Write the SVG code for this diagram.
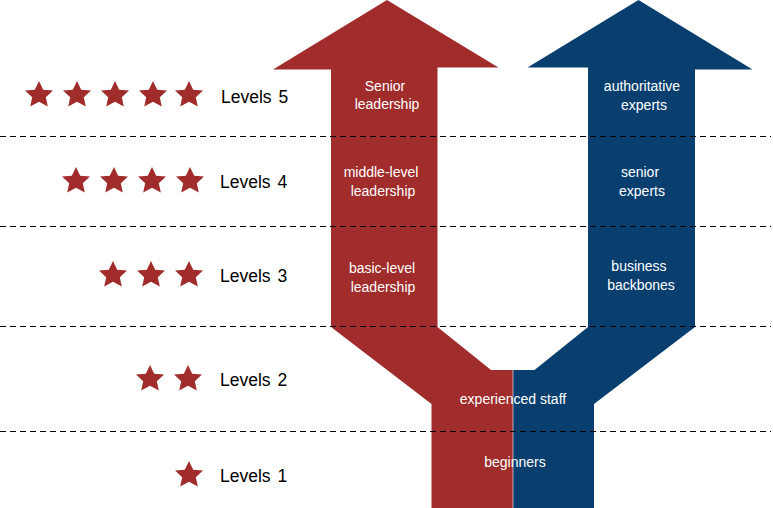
<svg xmlns="http://www.w3.org/2000/svg" width="773" height="508" viewBox="0 0 773 508">
<style>
text{font-family:"Liberation Sans",Arial,sans-serif}
.w{fill:#fff;font-size:14px;text-anchor:middle}
.l{fill:#000;font-size:17.500px;word-spacing:2px}
.d{stroke:#000;stroke-width:1.200;stroke-dasharray:6 4;fill:none}
.s{fill:#a02c2c}
</style>
<defs><polygon id="star" points="0,-14 4.200,-5.200 14,-4.400 6.800,2.200 8.800,11.600 0,6.800 -8.800,11.600 -6.800,2.200 -14,-4.400 -4.200,-5.200"/></defs>
<rect width="773" height="508" fill="#fff"/>
<g id="arrow-red"><polygon fill="#a02c2c" points="387,0 498.500,67.500 437.500,67.500 437.500,327 491,370 512.700,370 512.700,508 431.500,508 431.500,404 331,327 331,69.500 273,69.500"/></g>
<g id="arrow-blue"><polygon fill="#083f6f" points="638.500,0 752.500,69.500 695,69.500 695,327 594,404 594,508 513.300,508 513.300,370 534.500,370 588,327 588,67.500 527.500,67.500"/></g>
<g id="connectors">
<line class="d" x1="0" y1="136.500" x2="771" y2="136.500"/>
<line class="d" x1="0" y1="226.500" x2="771" y2="226.500"/>
<line class="d" x1="0" y1="326.500" x2="771" y2="326.500"/>
<line class="d" x1="0" y1="431.500" x2="771" y2="431.500"/>
</g>
<g id="level5"><g class="s"><use href="#star" x="39" y="95"/><use href="#star" x="77" y="95"/><use href="#star" x="115" y="95"/><use href="#star" x="153" y="95"/><use href="#star" x="189" y="95"/></g><text class="l" x="221" y="103">Levels 5</text></g>
<g id="level4"><g class="s"><use href="#star" x="76" y="181"/><use href="#star" x="114" y="181"/><use href="#star" x="152" y="181"/><use href="#star" x="190" y="181"/></g><text class="l" x="220" y="188">Levels 4</text></g>
<g id="level3"><g class="s"><use href="#star" x="113" y="275"/><use href="#star" x="151" y="275"/><use href="#star" x="189" y="275"/></g><text class="l" x="220" y="282">Levels 3</text></g>
<g id="level2"><g class="s"><use href="#star" x="150" y="379"/><use href="#star" x="188" y="379"/></g><text class="l" x="220" y="386">Levels 2</text></g>
<g id="level1"><g class="s"><use href="#star" x="189" y="475"/></g><text class="l" x="220" y="482">Levels 1</text></g>
<g id="t-senior"><text class="w" x="385" y="91">Senior</text><text class="w" x="387" y="109">leadership</text></g>
<g id="t-middle"><text class="w" x="381" y="177">middle-level</text><text class="w" x="383" y="196">leadership</text></g>
<g id="t-basic"><text class="w" x="382" y="273">basic-level</text><text class="w" x="383" y="292">leadership</text></g>
<g id="t-auth"><text class="w" x="642" y="91">authoritative</text><text class="w" x="644" y="110">experts</text></g>
<g id="t-senior-exp"><text class="w" x="640" y="177">senior</text><text class="w" x="642" y="196">experts</text></g>
<g id="t-biz"><text class="w" x="639" y="271">business</text><text class="w" x="641" y="290">backbones</text></g>
<g id="t-exp"><text class="w" x="513" y="404">experienced staff</text></g>
<g id="t-beg"><text class="w" x="515" y="467">beginners</text></g>
</svg>
